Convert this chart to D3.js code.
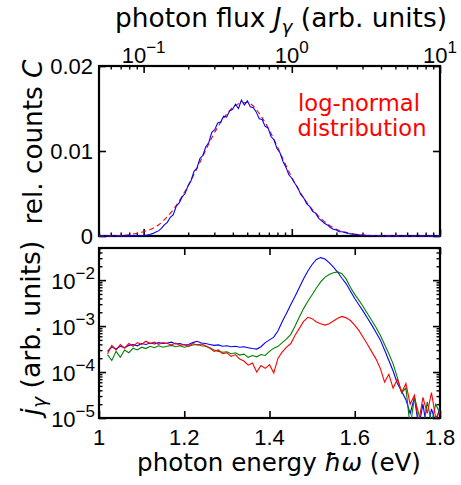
<!DOCTYPE html>
<html><head><meta charset="utf-8">
<script src="https://cdn.jsdelivr.net/npm/d3@7"></script>
<style>body{margin:0;background:#fff}svg{display:block}</style>
</head><body>
<svg id="c" width="461" height="485"></svg>
<script>
// ---------- DATA ----------
// top panel: histogram of photon flux (blue) and log-normal fit (red dashed)
const fluxBins = [0.05,0.07,0.085,0.1,0.1047,0.1096,0.1148,0.1202,0.1259,0.1318,0.138,0.1445,0.1514,0.1585,0.166,0.1738,0.182,0.1905,0.1995,0.2089,0.2188,0.2291,0.2399,0.2512,0.263,0.2754,0.2884,0.302,0.3162,0.3311,0.3467,0.3631,0.3802,0.3981,0.4169,0.4365,0.4571,0.4786,0.5012,0.5248,0.5495,0.5754,0.6026,0.631,0.6607,0.6918,0.7244,0.7586,0.7943,0.8318,0.871,0.912,0.955,1.0,1.047,1.096,1.148,1.202,1.259,1.318,1.38,1.445,1.514,1.585,1.66,1.738,1.82,1.905,1.995,2.089,2.188,2.291,2.399,2.512,2.63,2.754,2.884,3.5,5,7,10];
const countsMeasured = [0,0,0.00002,0.00005,0.0001,0.00018,0.00028,0.00045,0.0006,0.0009,0.0013,0.0016,0.0022,0.0025,0.0035,0.0039,0.0046,0.005,0.0059,0.0065,0.0076,0.008,0.0091,0.0095,0.0105,0.011,0.0122,0.0125,0.0133,0.0134,0.0141,0.014,0.0147,0.0149,0.0155,0.015,0.016,0.0154,0.0159,0.0152,0.0151,0.0146,0.0138,0.0137,0.0129,0.0127,0.0117,0.0113,0.0103,0.0098,0.0088,0.0081,0.0072,0.0068,0.0062,0.0057,0.0049,0.0045,0.0038,0.0035,0.0029,0.0027,0.0021,0.0018,0.0015,0.0013,0.001,0.0008,0.0007,0.0005,0.0005,0.0004,0.0003,0.00025,0.0002,0.00018,0.00012,0.00003,0,0,0];
const fitFlux = [0.05,0.0631,0.0794,0.0891,0.1,0.1122,0.1259,0.1413,0.1585,0.1778,0.1995,0.2239,0.2512,0.2818,0.3162,0.3548,0.3981,0.4467,0.5012,0.5623,0.631,0.7079,0.7943,0.8913,1.0,1.122,1.259,1.413,1.585,1.778,1.995,2.239,2.512,3.162,3.981,6.31,10];
const countsFit = [0,0.00003,0.00015,0.0003,0.0005,0.0008,0.0013,0.0021,0.0031,0.0044,0.0059,0.0076,0.0094,0.0112,0.0128,0.0141,0.0151,0.0156,0.0157,0.0151,0.0139,0.0124,0.0106,0.0087,0.0069,0.0053,0.004,0.0029,0.002,0.0013,0.0008,0.0005,0.0003,0.0001,0.00003,0,0];

// bottom panel: spectra vs photon energy (eV)
const energy = [1.02,1.03,1.04,1.05,1.06,1.07,1.08,1.09,1.10,1.11,1.12,1.13,1.14,1.15,1.16,1.17,1.18,1.19,1.20,1.21,1.22,1.23,1.24,1.25,1.26,1.27,1.28,1.29,1.30,1.31,1.32,1.33,1.34,1.35,1.36,1.37,1.38,1.39,1.40,1.41,1.42,1.43,1.44,1.45,1.46,1.47,1.48,1.49,1.50,1.51,1.52,1.53,1.54,1.55,1.56,1.57,1.58,1.59,1.60,1.61,1.62,1.63,1.64,1.65,1.66,1.67,1.68,1.69,1.70,1.71,1.72,1.73,1.74,1.75,1.76,1.77,1.78,1.79,1.80];
const rateBlue = [2.82e-4,3.55e-4,3.16e-4,3.63e-4,3.39e-4,3.80e-4,3.98e-4,3.72e-4,4.17e-4,3.98e-4,4.27e-4,4.07e-4,4.37e-4,4.17e-4,4.27e-4,4.47e-4,4.07e-4,4.17e-4,3.89e-4,3.98e-4,4.37e-4,4.68e-4,4.27e-4,4.17e-4,3.98e-4,3.80e-4,3.89e-4,3.63e-4,3.72e-4,3.55e-4,3.63e-4,3.47e-4,3.55e-4,3.39e-4,3.24e-4,3.16e-4,3.55e-4,4.37e-4,5.01e-4,5.75e-4,7.94e-4,1.26e-3,1.91e-3,2.95e-3,4.47e-3,6.92e-3,1.07e-2,1.58e-2,2.19e-2,2.82e-2,3.09e-2,2.88e-2,2.40e-2,1.91e-2,1.48e-2,1.10e-2,8.32e-3,5.75e-3,3.98e-3,2.88e-3,2.09e-3,1.48e-3,1.05e-3,7.24e-4,5.01e-4,3.02e-4,1.78e-4,1.05e-4,5.62e-5,3.80e-5,2.51e-5,1.26e-5,2.82e-5,6.31e-6,2.00e-5,5.01e-6,1.58e-5,7.94e-6,1.78e-5];
const rateGreen = [2.40e-4,1.78e-4,2.82e-4,2.09e-4,3.02e-4,2.63e-4,3.31e-4,3.02e-4,3.47e-4,3.24e-4,3.63e-4,3.39e-4,3.72e-4,3.47e-4,3.63e-4,3.80e-4,3.55e-4,3.72e-4,3.47e-4,3.63e-4,3.89e-4,3.98e-4,3.72e-4,3.63e-4,3.39e-4,3.02e-4,2.82e-4,2.69e-4,2.75e-4,2.51e-4,2.63e-4,2.34e-4,2.45e-4,2.09e-4,2.29e-4,2.14e-4,2.40e-4,2.29e-4,2.82e-4,3.31e-4,3.63e-4,4.37e-4,5.25e-4,6.61e-4,1.00e-3,1.58e-3,2.40e-3,3.47e-3,4.79e-3,6.76e-3,9.12e-3,1.15e-2,1.32e-2,1.45e-2,1.51e-2,1.38e-2,1.05e-2,6.92e-3,4.90e-3,3.63e-3,2.63e-3,1.86e-3,1.32e-3,9.33e-4,6.31e-4,3.98e-4,2.51e-4,1.51e-4,7.59e-5,3.55e-5,4.47e-5,6.31e-6,2.82e-5,1.26e-5,5.01e-6,2.24e-5,7.94e-6,2.00e-5,1.26e-5];
const rateRed = [2.51e-4,3.80e-4,3.02e-4,3.98e-4,3.31e-4,4.17e-4,3.63e-4,4.37e-4,3.98e-4,4.68e-4,4.17e-4,4.47e-4,3.98e-4,4.37e-4,4.17e-4,3.89e-4,4.27e-4,3.80e-4,3.98e-4,3.63e-4,4.17e-4,3.89e-4,4.07e-4,3.72e-4,3.31e-4,2.82e-4,3.02e-4,2.51e-4,2.63e-4,2.19e-4,2.40e-4,1.91e-4,1.74e-4,1.41e-4,1.58e-4,1.00e-4,1.38e-4,1.20e-4,1.45e-4,9.55e-5,2.00e-4,2.75e-4,3.47e-4,4.17e-4,6.31e-4,8.91e-4,1.26e-3,1.55e-3,1.45e-3,1.23e-3,1.12e-3,1.05e-3,1.12e-3,1.29e-3,1.48e-3,1.62e-3,1.51e-3,1.32e-3,1.05e-3,7.94e-4,5.62e-4,3.98e-4,2.75e-4,1.91e-4,1.20e-4,6.03e-5,8.91e-5,4.47e-5,7.08e-5,3.55e-5,5.62e-5,2.00e-5,3.16e-5,7.94e-6,2.82e-5,1.26e-5,3.55e-5,1.00e-5,1.41e-5];

// tick values and labels
const fluxTicks = [0.1, 1, 10];
const fluxTickExp = ["\u22121", "0", "1"];
const countTicks = [0, 0.01, 0.02];
const countTickLabels = ["0", "0.01", "0.02"];
const energyTicks = [1, 1.2, 1.4, 1.6, 1.8];
const energyTickLabels = ["1", "1.2", "1.4", "1.6", "1.8"];
const rateTicks = [1e-5, 1e-4, 1e-3, 1e-2];
const rateTickExp = ["\u22125", "\u22124", "\u22123", "\u22122"];

// ---------- LAYOUT ----------
const svg = d3.select("#c");
const L = 99, R = 440;
const T1 = 66, B1 = 236, T2 = 248, B2 = 418;
const tickFont = "'Liberation Sans', Arial, sans-serif";
const titleFont = "'DejaVu Sans', sans-serif";

const xFlux = d3.scaleLog().domain([0.05, 10]).range([L, R]);
const yCount = d3.scaleLinear().domain([0, 0.02]).range([B1, T1]);
const xE = d3.scaleLinear().domain([1, 1.8]).range([L, R]);
const yJ = d3.scaleLog().domain([1e-5, 0.05]).range([B2, T2]);

const defs = svg.append("defs");
defs.append("clipPath").attr("id", "cp1").append("rect").attr("x", L).attr("y", T1).attr("width", R - L).attr("height", B1 - T1 + 1.5);
defs.append("clipPath").attr("id", "cp2").append("rect").attr("x", L).attr("y", T2).attr("width", R - L).attr("height", B2 - T2);

function styleAxis(g, w) {
  g.select(".domain").remove();
  g.selectAll(".tick line").attr("stroke", "#000").attr("stroke-width", w);
  g.selectAll(".tick text").remove();
}
const MAJ = 7, MIN = 3.5;

// ----- top panel ticks -----
const fluxMinor = xFlux.ticks().filter(v => !fluxTicks.some(t => Math.abs(t - v) < 1e-9));
[[d3.axisBottom, T1], [d3.axisTop, B1]].forEach(([ax, y]) => {
  svg.append("g").attr("transform", `translate(0,${y})`)
    .call(ax(xFlux).tickValues(fluxTicks).tickSize(MAJ).tickFormat("")).call(g => styleAxis(g, 1.6));
  svg.append("g").attr("transform", `translate(0,${y})`)
    .call(ax(xFlux).tickValues(fluxMinor).tickSize(MIN).tickFormat("")).call(g => styleAxis(g, 1.4));
});
[[d3.axisRight, L], [d3.axisLeft, R]].forEach(([ax, x]) => {
  svg.append("g").attr("transform", `translate(${x},0)`)
    .call(ax(yCount).tickValues(countTicks).tickSize(MAJ).tickFormat("")).call(g => styleAxis(g, 1.6));
});

// ----- bottom panel ticks -----
[[d3.axisTop, B2], [d3.axisBottom, T2]].forEach(([ax, y]) => {
  svg.append("g").attr("transform", `translate(0,${y})`)
    .call(ax(xE).tickValues(energyTicks).tickSize(MAJ).tickFormat("")).call(g => styleAxis(g, 1.6));
});
const rateMinor = yJ.ticks().filter(v => !rateTicks.some(t => Math.abs(t - v) / t < 1e-6));
[[d3.axisRight, L], [d3.axisLeft, R]].forEach(([ax, x]) => {
  svg.append("g").attr("transform", `translate(${x},0)`)
    .call(ax(yJ).tickValues(rateTicks).tickSize(MAJ).tickFormat("")).call(g => styleAxis(g, 1.6));
  svg.append("g").attr("transform", `translate(${x},0)`)
    .call(ax(yJ).tickValues(rateMinor).tickSize(MIN).tickFormat("")).call(g => styleAxis(g, 1.4));
});

// frames
[[T1, B1], [T2, B2]].forEach(([t, b]) => {
  svg.append("rect").attr("x", L).attr("y", t).attr("width", R - L).attr("height", b - t)
    .attr("fill", "none").attr("stroke", "#000").attr("stroke-width", 2.2);
});

// ----- data: top -----
const p1 = svg.append("g").attr("clip-path", "url(#cp1)");
p1.append("path")
  .attr("d", d3.line().x((d, i) => xFlux(fitFlux[i])).y(d => yCount(d)).curve(d3.curveMonotoneX)(countsFit))
  .attr("fill", "none").attr("stroke", "#ff0000").attr("stroke-width", 1.1).attr("stroke-dasharray", "5,3.5");
p1.append("path")
  .attr("d", d3.line().x((d, i) => xFlux(fluxBins[i])).y(d => yCount(d))(countsMeasured))
  .attr("fill", "none").attr("stroke", "#0000ff").attr("stroke-width", 1.1);

// ----- data: bottom -----
const p2 = svg.append("g").attr("clip-path", "url(#cp2)");
const specLine = d3.line().x((d, i) => xE(energy[i])).y(d => yJ(d));
[[rateBlue, "#0000ff"], [rateGreen, "#008000"], [rateRed, "#ff0000"]].forEach(([s, c]) => {
  p2.append("path").attr("d", specLine(s)).attr("fill", "none").attr("stroke", c).attr("stroke-width", 1.1);
});

// ----- tick labels -----
const lab = svg.append("g").attr("font-family", tickFont).attr("font-size", 22).attr("fill", "#000");
fluxTicks.forEach((v, i) => {
  const t = lab.append("text").attr("x", xFlux(v)).attr("y", 63).attr("text-anchor", "middle");
  t.append("tspan").text("10");
  t.append("tspan").attr("dy", -10).attr("font-size", 17).text(fluxTickExp[i]);
});
countTicks.forEach((v, i) => {
  lab.append("text").attr("x", 93).attr("y", yCount(v) + 8).attr("text-anchor", "end").text(countTickLabels[i]);
});
rateTicks.forEach((v, i) => {
  const t = lab.append("text").attr("x", 95).attr("y", yJ(v) + 9).attr("text-anchor", "end");
  t.append("tspan").text("10");
  t.append("tspan").attr("dy", -10).attr("font-size", 17).text(rateTickExp[i]);
});
energyTicks.forEach((v, i) => {
  lab.append("text").attr("x", xE(v)).attr("y", 445).attr("text-anchor", "middle").text(energyTickLabels[i]);
});

// ----- titles -----
function fit(sel, width) {
  const w = sel.node().getComputedTextLength();
  const fs = parseFloat(sel.attr("font-size"));
  sel.attr("font-size", fs * width / w);
}
const ttl = svg.append("g").attr("font-family", titleFont).attr("fill", "#000");

const tTop = ttl.append("text").attr("x", 281).attr("y", 27).attr("text-anchor", "middle").attr("font-size", 24);
tTop.append("tspan").text("photon flux ");
tTop.append("tspan").attr("font-style", "italic").text("J");
tTop.append("tspan").attr("font-style", "italic").attr("font-size", "70%").attr("dy", "0.3em").text("\u03b3");
tTop.append("tspan").attr("dy", "-0.21em").text(" (arb. units)");
fit(tTop, 332);

const tBot = ttl.append("text").attr("x", 279).attr("y", 471).attr("text-anchor", "middle").attr("font-size", 24);
tBot.append("tspan").text("photon energy ");
tBot.append("tspan").attr("font-style", "italic").text("\u0127\u03c9");
tBot.append("tspan").text(" (eV)");
fit(tBot, 284);

const tY1 = ttl.append("text").attr("transform", "translate(42,142) rotate(-90)").attr("text-anchor", "middle").attr("font-size", 24);
tY1.append("tspan").text("rel. counts ");
tY1.append("tspan").attr("font-style", "italic").text("C");
fit(tY1, 165);

const tY2 = ttl.append("text").attr("transform", "translate(40,328) rotate(-90)").attr("text-anchor", "middle").attr("font-size", 24);
tY2.append("tspan").attr("font-style", "italic").text("\u0237\u0307");
tY2.append("tspan").attr("font-style", "italic").attr("font-size", "70%").attr("dy", "0.3em").text("\u03b3");
tY2.append("tspan").attr("dy", "-0.21em").text(" (arb. units)");
fit(tY2, 175);

// legend text
const lg1 = ttl.append("text").attr("x", 359).attr("y", 111).attr("text-anchor", "middle").attr("font-size", 22).attr("fill", "#ff0000").text("log-normal");
const lg2 = ttl.append("text").attr("x", 362).attr("y", 136).attr("text-anchor", "middle").attr("font-size", 22).attr("fill", "#ff0000").text("distribution");
fit(lg2, 129);
lg1.attr("font-size", lg2.attr("font-size"));
</script>
</body></html>
